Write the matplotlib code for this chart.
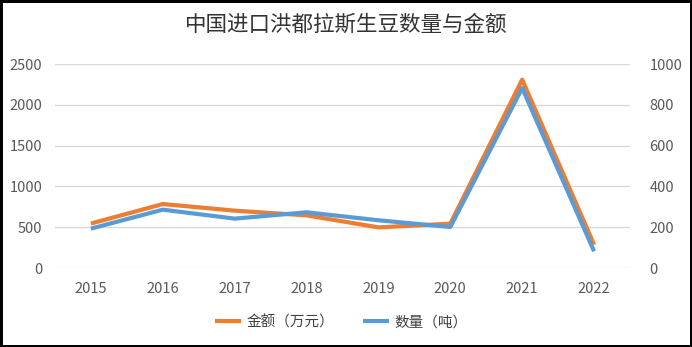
import matplotlib.pyplot as plt
import numpy as np

plt.rcParams['font.family'] = ['Noto Sans CJK SC', 'DejaVu Sans']

years = ['2015', '2016', '2017', '2018', '2019', '2020', '2021', '2022']
amount = [545, 784, 703, 645, 498, 543, 2308, 286]   # 金额（万元）
volume = [193, 286, 242, 273, 234, 201, 882, 82]     # 数量（吨）

fig = plt.figure(figsize=(6.92, 3.47), dpi=100, linewidth=2.5, edgecolor='black')
ax = fig.add_axes([55/692, 1 - 268/347, 575/692, 204/347])
ax2 = ax.twinx()

x = np.arange(len(years))
l1, = ax.plot(x, amount, color='#ED7D31', lw=3, solid_capstyle='butt', label='金额（万元）', zorder=3)
l2, = ax2.plot(x, volume, color='#5B9BD5', lw=3, solid_capstyle='butt', label='数量（吨）', zorder=3)

ax.set_xlim(-0.5, 7.5)
ax.set_ylim(0, 2500)
ax2.set_ylim(0, 1000)
ax.set_yticks(np.arange(0, 2501, 500))
ax2.set_yticks(np.arange(0, 1001, 200))
ax.set_xticks(x)
ax.set_xticklabels(years)

ax.grid(axis='y', color='#D9D9D9', lw=1)
ax.set_axisbelow(True)
for a in (ax, ax2):
    for s in a.spines.values():
        s.set_visible(False)
    a.tick_params(length=0, labelsize=10.5, colors='#595959')
ax.tick_params(axis='y', pad=9)
ax2.tick_params(axis='y', pad=14)
ax.tick_params(axis='x', pad=10)

fig.text(0.5, 1 - 25/347, '中国进口洪都拉斯生豆数量与金额', ha='center', va='center',
         fontsize=15.5, color='#333333')
fig.legend(handles=[l1, l2], loc='center', bbox_to_anchor=(0.493, 1 - 322/347), ncol=2,
           frameon=False, fontsize=10.5, handlelength=1.8, handletextpad=0.35,
           columnspacing=2.0, labelcolor='#404040')

fig.savefig('out.png', dpi=100)
